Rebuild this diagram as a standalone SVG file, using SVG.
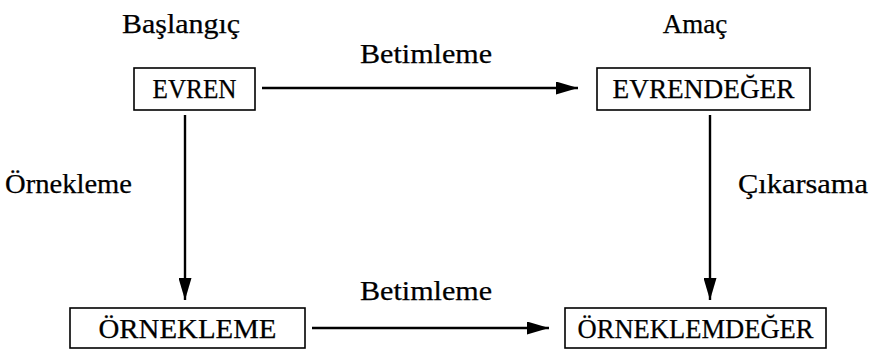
<svg xmlns="http://www.w3.org/2000/svg" width="875" height="351" viewBox="0 0 875 351">
<defs>
<marker id="ah" markerWidth="22" markerHeight="13" refX="22" refY="6.5" orient="auto" markerUnits="userSpaceOnUse">
<path d="M0,0 L22,6.5 L0,13 Z" fill="#000"/>
</marker>
<style>
text{font-family:'Liberation Serif','DejaVu Serif',serif;font-size:27px;fill:#000;stroke:#000;stroke-width:0.25}
.b{fill:#fff;stroke:#000;stroke-width:1.6}
.c{stroke:#000;stroke-width:2.4;fill:none;marker-end:url(#ah)}
</style>
</defs>
<rect width="875" height="351" fill="#fff"/>
<text x="122" y="33" textLength="118" lengthAdjust="spacingAndGlyphs">Başlangıç</text>
<text x="695" y="33" text-anchor="middle">Amaç</text>
<g id="evren"><rect class="b" x="134" y="68" width="121" height="42"/><text x="152.5" y="98" textLength="84" lengthAdjust="spacingAndGlyphs">EVREN</text></g>
<g id="evrendeger"><rect class="b" x="597" y="68" width="213" height="42"/><text x="612.5" y="98" textLength="182" lengthAdjust="spacingAndGlyphs">EVRENDEĞER</text></g>
<g id="ornekleme"><rect class="b" x="70" y="308" width="235" height="40"/><text x="98.5" y="338" textLength="178" lengthAdjust="spacingAndGlyphs">ÖRNEKLEME</text></g>
<g id="orneklemdeger"><rect class="b" x="565" y="308" width="261" height="40"/><text x="577.5" y="338" textLength="236" lengthAdjust="spacingAndGlyphs">ÖRNEKLEMDEĞER</text></g>
<g id="connectors">
<line class="c" x1="262" y1="88" x2="578" y2="88"/>
<line class="c" x1="185" y1="115" x2="185" y2="300"/>
<line class="c" x1="710" y1="115" x2="710" y2="300"/>
<line class="c" x1="312" y1="328" x2="549" y2="328"/>
<text x="360" y="63" textLength="132" lengthAdjust="spacingAndGlyphs">Betimleme</text>
<text x="5" y="193" textLength="127" lengthAdjust="spacingAndGlyphs">Örnekleme</text>
<text x="738" y="193" textLength="130" lengthAdjust="spacingAndGlyphs">Çıkarsama</text>
<text x="360" y="300" textLength="132" lengthAdjust="spacingAndGlyphs">Betimleme</text>
</g>
</svg>
